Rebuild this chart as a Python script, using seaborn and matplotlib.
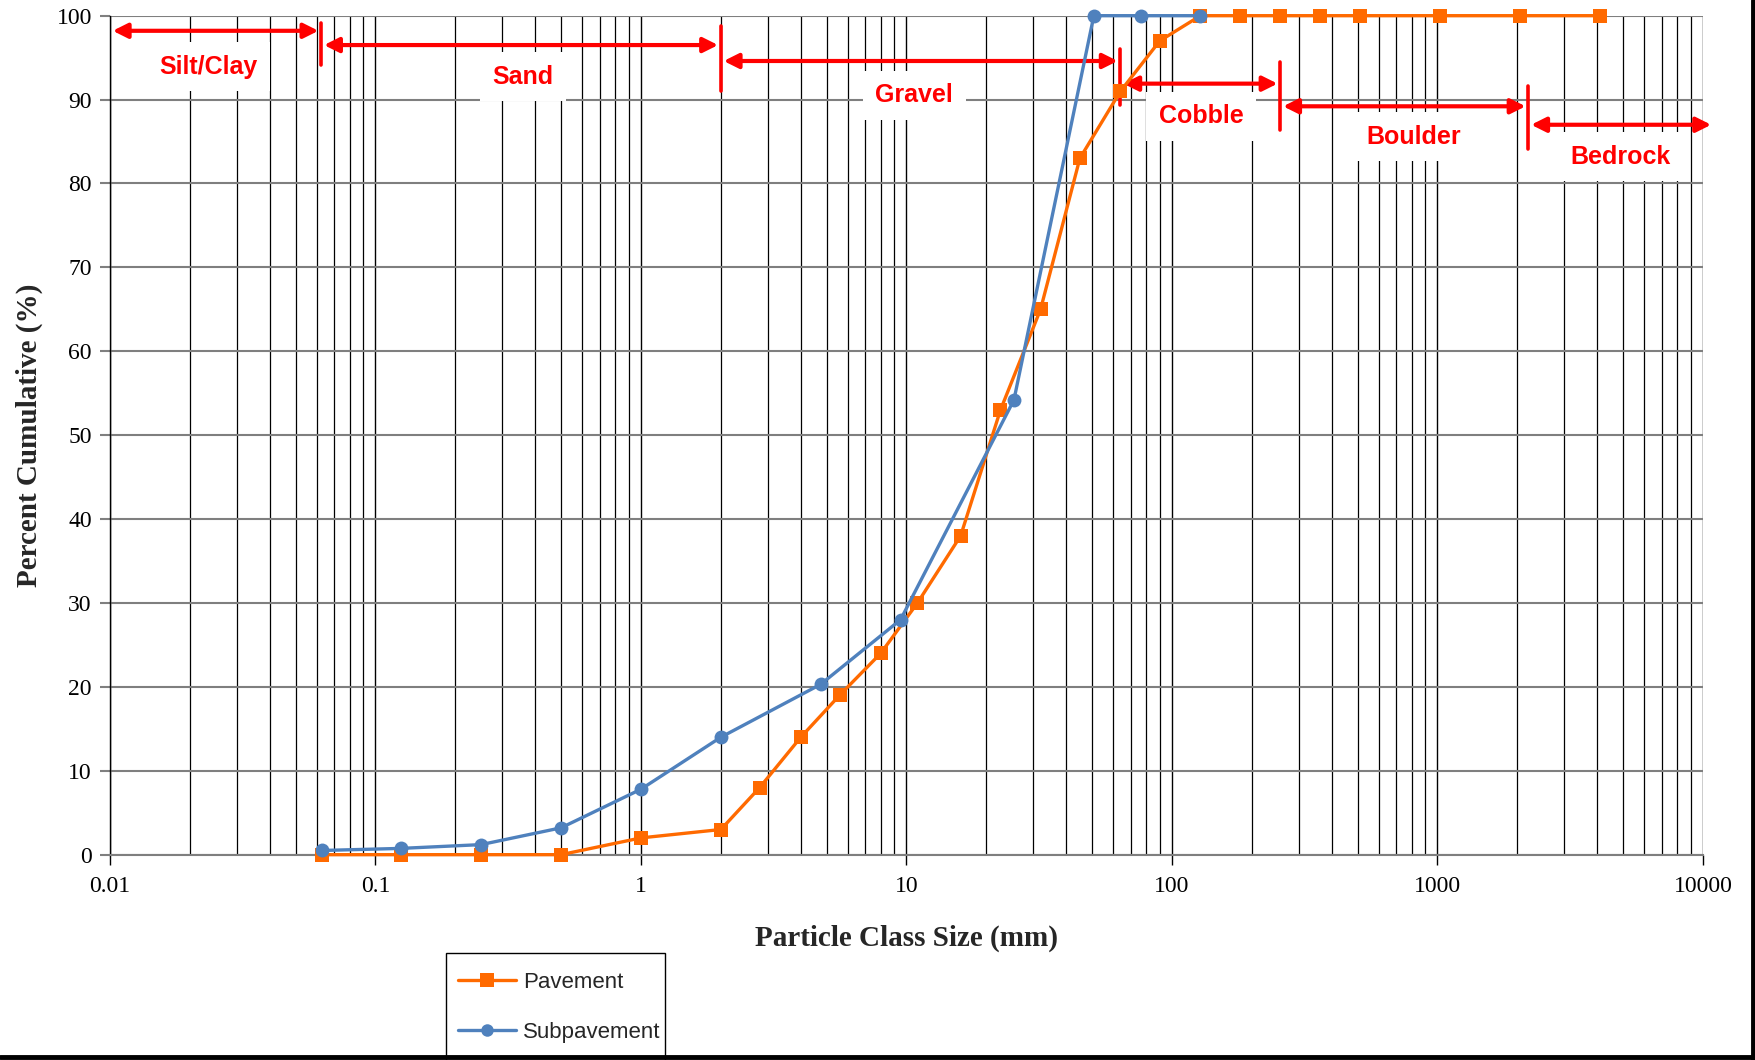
import matplotlib
matplotlib.use("Agg")
import matplotlib.pyplot as plt
from matplotlib.lines import Line2D
from matplotlib.patches import Rectangle
from matplotlib.ticker import LogLocator, FixedLocator, FixedFormatter, NullFormatter
import numpy as np
import pandas as pd
import seaborn as sns

# Particle size distribution (mm vs cumulative percent finer)
pavement_size = [0.063, 0.125, 0.25, 0.5, 1, 2, 2.8, 4, 5.6, 8, 11, 16, 22.6, 32, 45,
                 64, 90, 128, 180, 256, 362, 512, 1024, 2048, 4096]
pavement_pct = [0, 0, 0, 0, 2, 3, 8, 14, 19, 24, 30, 38, 53, 65, 83,
                91, 97, 100, 100, 100, 100, 100, 100, 100, 100]

subpavement_size = [0.063, 0.125, 0.25, 0.5, 1, 2, 4.75, 9.5, 25.4, 50.8, 76.2, 127]
subpavement_pct = [0.5, 0.75, 1.2, 3.2, 7.8, 14, 20.3, 28, 54.2, 100, 100, 100]

series_names = ["Pavement", "Subpavement"]
series_colors = {"Pavement": "#FF6A00", "Subpavement": "#4F81BD"}
series_markers = {"Pavement": "s", "Subpavement": "o"}

x_ticks = [0.01, 0.1, 1, 10, 100, 1000, 10000]
x_tick_labels = ["0.01", "0.1", "1", "10", "100", "1000", "10000"]
y_ticks = list(range(0, 101, 10))

# Size class bands: edges, arrow heights, labels and label positions
class_edges = [0.01, 0.0625, 2, 64, 256, 2200, 11000]
class_arrow_y = [98.2, 96.5, 94.6, 91.9, 89.2, 87.0]
class_labels = ["Silt/Clay", "Sand", "Gravel", "Cobble", "Boulder", "Bedrock"]
class_label_x = [0.0235, 0.36, 10.7, 129, 815, 4880]
class_label_y = [93.9, 92.7, 90.5, 88.0, 85.6, 83.2]
# Vertical boundary markers between classes
bound_x = [0.0625, 2, 64, 256, 2200]
bound_lo = [94.1, 91.0, 89.3, 86.4, 84.1]
bound_hi = [99.1, 98.8, 96.0, 94.5, 91.6]

df = pd.concat([
    pd.DataFrame({"size": pavement_size, "pct": pavement_pct, "series": "Pavement"}),
    pd.DataFrame({"size": subpavement_size, "pct": subpavement_pct, "series": "Subpavement"}),
], ignore_index=True)

sns.set_theme(style="white")
plt.rcParams["font.family"] = ["Liberation Serif", "DejaVu Serif"]

W, H = 1756, 1060
fig = plt.figure(figsize=(W / 100, H / 100), dpi=100)
ax = fig.add_axes([0.0626, 0.1937, 0.9072, 0.7915])

sns.lineplot(data=df, x="size", y="pct", hue="series", style="series",
             hue_order=series_names, style_order=series_names,
             palette=series_colors, markers=series_markers, dashes=False,
             sort=False, linewidth=2.4, markersize=10, markeredgewidth=0,
             ax=ax, legend=False, zorder=5)
for line in ax.lines:
    line.set_clip_on(False)

ax.set_xscale("log")
ax.set_xlim(0.01, 10000)
ax.set_ylim(0, 100)

# Grid: every log minor division vertically, every 10% horizontally
ax.xaxis.set_major_locator(FixedLocator(x_ticks))
ax.xaxis.set_major_formatter(FixedFormatter(x_tick_labels))
ax.xaxis.set_minor_locator(LogLocator(base=10, subs=np.arange(2, 10)))
ax.xaxis.set_minor_formatter(NullFormatter())
ax.set_yticks(y_ticks)
ax.grid(True, which="major", axis="x", color="black", linewidth=1.0)
ax.grid(True, which="minor", axis="x", color="black", linewidth=0.9)
ax.grid(True, which="major", axis="y", color="#7f7f7f", linewidth=1.5)
ax.set_axisbelow(True)

ax.tick_params(axis="x", which="major", direction="out", length=7, width=1,
               color="black", labelsize=17, pad=8, bottom=True)
ax.tick_params(axis="x", which="minor", length=0)
ax.tick_params(axis="y", which="major", direction="out", length=7, width=1.5,
               color="#7f7f7f", labelsize=17, pad=6, left=True)
for lab in ax.get_xticklabels() + ax.get_yticklabels():
    lab.set_color("black")

for side in ["top", "right"]:
    ax.spines[side].set_visible(False)
ax.spines["left"].set_color("black")
ax.spines["left"].set_linewidth(1.0)
ax.spines["bottom"].set_color("#7f7f7f")
ax.spines["bottom"].set_linewidth(1.5)

ax.set_xlabel("Particle Class Size (mm)", fontsize=21, fontweight="bold", labelpad=20)
ax.set_ylabel("Percent Cumulative (%)", fontsize=21, fontweight="bold", labelpad=10)

# Size class arrows, boundaries and labels
red = "#FF0000"
for i, name in enumerate(class_labels):
    ax.annotate("", xy=(class_edges[i + 1], class_arrow_y[i]),
                xytext=(class_edges[i], class_arrow_y[i]),
                arrowprops=dict(arrowstyle="<|-|>", color=red, lw=3,
                                mutation_scale=22, shrinkA=2, shrinkB=2),
                annotation_clip=False, zorder=4)
    ax.text(class_label_x[i], class_label_y[i], name, color=red, fontsize=18,
            fontweight="bold", family=["Liberation Sans", "DejaVu Sans"],
            ha="center", va="center", zorder=3,
            bbox=dict(facecolor="white", edgecolor="none", pad=9))
for bx, lo, hi in zip(bound_x, bound_lo, bound_hi):
    ax.plot([bx, bx], [lo, hi], color=red, lw=2.6, zorder=4)

# Legend below the axes; its box runs down past the bottom edge
handles = [Line2D([], [], color=series_colors[n], marker=series_markers[n],
                  markersize=10 if n == "Pavement" else 9, lw=2.4, markeredgewidth=0)
           for n in series_names]
fig.legend(handles, series_names, loc="upper left",
           bbox_to_anchor=(446 / W, 1 - 960 / H),
           frameon=False,
           prop={"family": ["Liberation Sans", "DejaVu Sans"], "size": 16},
           labelspacing=1.3, handlelength=2.6, handletextpad=0.3,
           borderpad=0.55, borderaxespad=0)
fig.add_artist(Rectangle((446 / W, -0.01), (665 - 446) / W, (H - 953) / H + 0.01,
                         transform=fig.transFigure, fill=False,
                         edgecolor="black", lw=1.0))

# Frame lines along the right and bottom edges of the figure
fig.add_artist(Line2D([0.9985, 0.9985], [0, 1], transform=fig.transFigure,
                      color="black", lw=3.5))
fig.add_artist(Line2D([0, 1], [0.003, 0.003], transform=fig.transFigure,
                      color="black", lw=3.5))

fig.savefig("out.png", dpi=100, facecolor="white")
